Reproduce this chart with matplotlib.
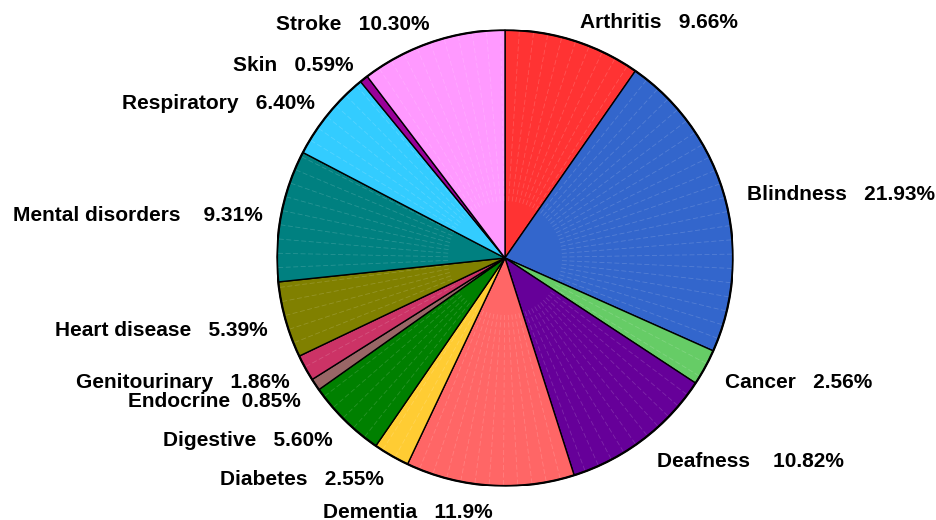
import matplotlib
matplotlib.use("Agg")
import numpy as np
import matplotlib.pyplot as plt
from matplotlib.transforms import ScaledTranslation

categories = ["Arthritis", "Blindness", "Cancer", "Deafness", "Dementia", "Diabetes",
              "Digestive", "Endocrine", "Genitourinary", "Heart disease",
              "Mental disorders", "Respiratory", "Skin", "Stroke"]
shares = [9.66, 21.93, 2.56, 10.82, 11.9, 2.55, 5.60, 0.85, 1.86, 5.39,
          9.31, 6.40, 0.59, 10.30]
share_text = ["9.66%", "21.93%", "2.56%", "10.82%", "11.9%", "2.55%", "5.60%",
              "0.85%", "1.86%", "5.39%", "9.31%", "6.40%", "0.59%", "10.30%"]
gaps = [3, 3, 3, 4, 3, 3, 3, 2, 3, 3, 4, 3, 3, 3]
colors = ["#FF3333", "#3366CC", "#66CC66", "#660099", "#FF6666", "#FFCC33",
          "#008000", "#996666", "#CC3366", "#808000", "#008080", "#33CCFF",
          "#990099", "#FF99FF"]

labels = [c + " " * g + s for c, g, s in zip(categories, gaps, share_text)]

fig = plt.figure(figsize=(9.36, 5.2), dpi=100)
# pie centre ~ (505, 258) px, radius ~ 228 px
ax = fig.add_axes([(505 - 228) / 936, (520 - 258 - 228) / 520, 456 / 936, 456 / 520])

wedges, texts = ax.pie(shares, labels=labels, colors=colors, startangle=90,
                       counterclock=False, labeldistance=1.1,
                       wedgeprops=dict(edgecolor="black", linewidth=1.0),
                       textprops=dict(fontsize=15, fontweight="bold",
                                      family="Liberation Sans"))

# faint streaks inside each wedge (every 1 percent), like the original render
total = sum(shares)
start = 0.0
for s in shares:
    k = 1.0
    while k < s:
        ang = np.deg2rad(90 - (start + k) / total * 360)
        ax.plot([0.25 * np.cos(ang), np.cos(ang)], [0.25 * np.sin(ang), np.sin(ang)],
                color="white", alpha=0.16, linewidth=0.6,
                linestyle=(0, (6, 3)), zorder=1.5)
        k += 1.0
    start += s

# nudge labels: down a little, left-side ones slightly towards the pie
for t in texts:
    dx = 4 if t.get_horizontalalignment() == "right" else 0
    t.set_transform(ax.transData + ScaledTranslation(dx / 100, -4 / 100, fig.dpi_scale_trans))

# thicker outer rim
rim = plt.Circle((0, 0), 1.0, fill=False, edgecolor="black", linewidth=1.6, zorder=3)
ax.add_patch(rim)

ax.set_xlim(-1.0, 1.0)
ax.set_ylim(-1.0, 1.0)
ax.set_aspect("equal")
ax.axis("off")

fig.savefig("out.png", dpi=100)
